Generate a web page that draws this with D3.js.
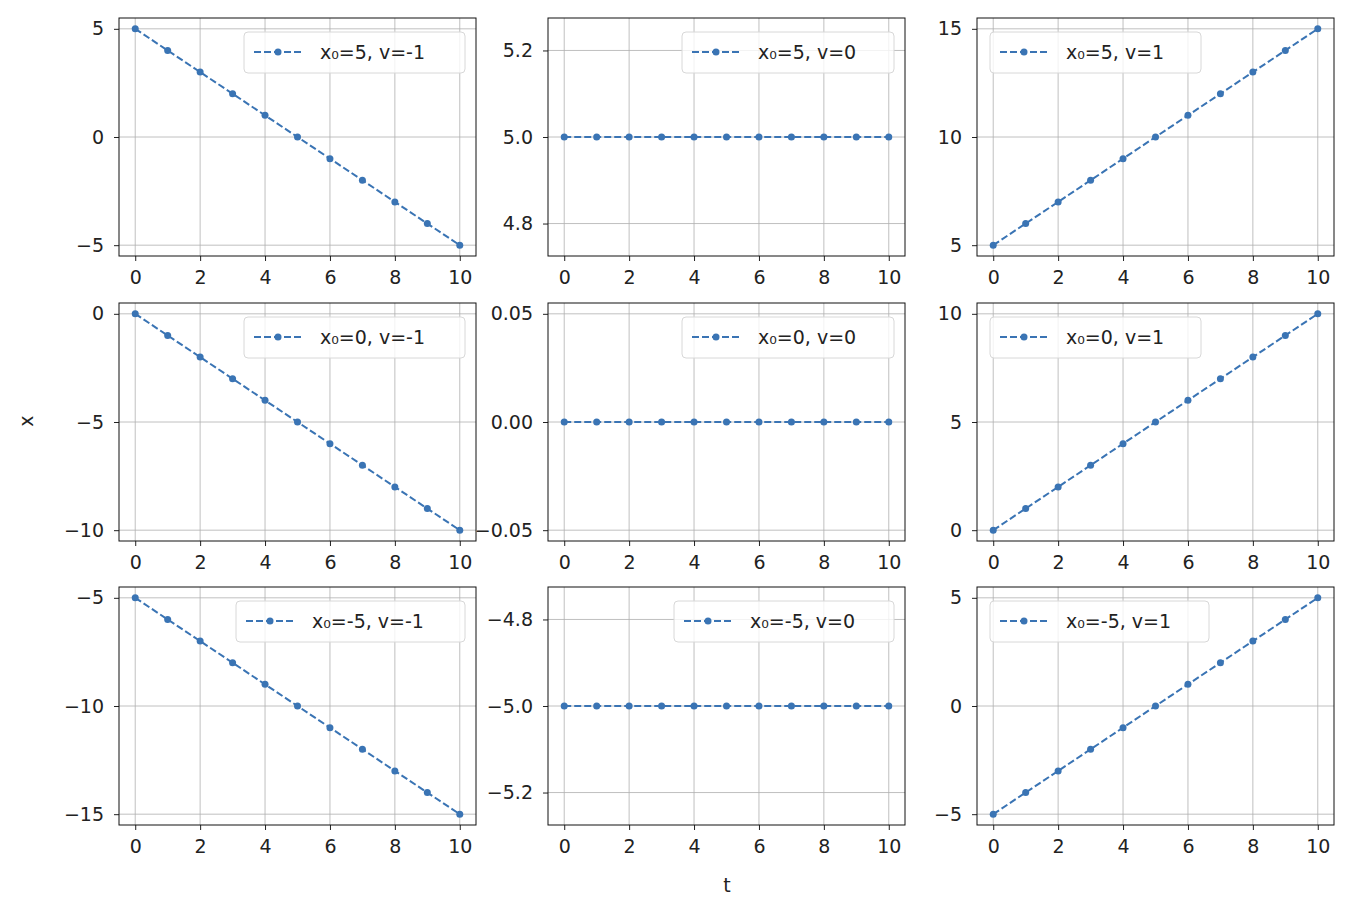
<!DOCTYPE html><html><head><meta charset="utf-8"><script src="https://cdn.jsdelivr.net/npm/d3@7"></script>
<style>body{margin:0;background:#fff}text{font-family:"DejaVu Sans",sans-serif}</style></head><body><svg id="c" width="1358" height="906"></svg>
<script>
const x0s=[5,0,-5];
const vs=[-1,0,1];
const times=[0,1,2,3,4,5,6,7,8,9,10];
const yTicksMap={"5,-1":[-5,0,5],"5,0":[4.8,5.0,5.2],"5,1":[5,10,15],"0,-1":[-10,-5,0],"0,0":[-0.05,0,0.05],"0,1":[0,5,10],"-5,-1":[-15,-10,-5],"-5,0":[-5.2,-5.0,-4.8],"-5,1":[-5,0,5]};
const xTicks=[0,2,4,6,8,10];
const color="#3a74b4";
const svg=d3.select("#c");
const colX=[119,548,977],rowY=[18,303,587],W=357,H=238;
x0s.forEach((x0,r)=>vs.forEach((v,c)=>{
  const g=svg.append("g").attr("transform",`translate(${colX[c]},${rowY[r]})`);
  const data=times.map(t=>({t,x:x0+v*t}));
  const xs=d3.scaleLinear().domain([-0.5,10.5]).range([0,W]);
  let lo=d3.min(data,d=>d.x),hi=d3.max(data,d=>d.x);
  if(lo===hi){const e=x0===0?0.05:Math.abs(x0)*0.05;lo-=e;hi+=e;}
  const m=(hi-lo)*0.05;
  const ys=d3.scaleLinear().domain([lo-m,hi+m]).range([H,0]);
  const yt=yTicksMap[x0+","+v];
  const fmt=v===0?(x0===0?d3.format(".2f"):d3.format(".1f")):d3.format("d");
  g.selectAll(".gx").data(xTicks).join("line").attr("x1",d=>xs(d)).attr("x2",d=>xs(d)).attr("y1",0).attr("y2",H).attr("stroke","#b0b0b0").attr("stroke-width",0.8);
  g.selectAll(".gy").data(yt).join("line").attr("y1",d=>ys(d)).attr("y2",d=>ys(d)).attr("x1",0).attr("x2",W).attr("stroke","#b0b0b0").attr("stroke-width",0.8);
  const ax=g.append("g").attr("transform",`translate(0,${H})`).call(d3.axisBottom(xs).tickValues(xTicks).tickSize(5).tickPadding(10));
  const ay=g.append("g").call(d3.axisLeft(ys).tickValues(yt).tickFormat(d=>fmt(d).replace("-","−")).tickSize(5).tickPadding(10));
  [ax,ay].forEach(a=>{a.select(".domain").remove();a.selectAll("text").attr("font-size",19).attr("fill","#222").style("font-family","DejaVu Sans");a.selectAll("line").attr("stroke","#222");});
  g.append("rect").attr("width",W).attr("height",H).attr("fill","none").attr("stroke","#111").attr("stroke-width",1);
  g.append("path").datum(data).attr("d",d3.line().x(d=>xs(d.t)).y(d=>ys(d.x))).attr("fill","none").attr("stroke",color).attr("stroke-width",2).attr("stroke-dasharray","7,3");
  g.selectAll(".pt").data(data).join("circle").attr("cx",d=>xs(d.t)).attr("cy",d=>ys(d.x)).attr("r",3.5).attr("fill",color);
  const label=`x₀=${x0}, v=${v}`;
  const bw=v===0?(x0===-5?220:212):(x0===-5?229:221)-(v===1?10:0);
  const lx=v===1?13:W-11-bw;
  const lg=g.append("g").attr("transform",`translate(${lx},14)`);
  lg.append("rect").attr("width",bw).attr("height",41).attr("rx",4).attr("fill","rgba(255,255,255,0.8)").attr("stroke","#d8d8d8");
  lg.append("line").attr("x1",10).attr("x2",58).attr("y1",20).attr("y2",20).attr("stroke",color).attr("stroke-width",2).attr("stroke-dasharray","7,3");
  lg.append("circle").attr("cx",34).attr("cy",20).attr("r",3.5).attr("fill",color);
  lg.append("text").attr("x",76).attr("y",27).attr("font-size",19).attr("fill","#222").text(label);
}));
svg.append("text").attr("x",727).attr("y",892).attr("text-anchor","middle").attr("font-size",19).attr("fill","#222").text("t");
svg.append("text").attr("transform","translate(33,421) rotate(-90)").attr("text-anchor","middle").attr("font-size",19).attr("fill","#222").text("x");
</script></body></html>
